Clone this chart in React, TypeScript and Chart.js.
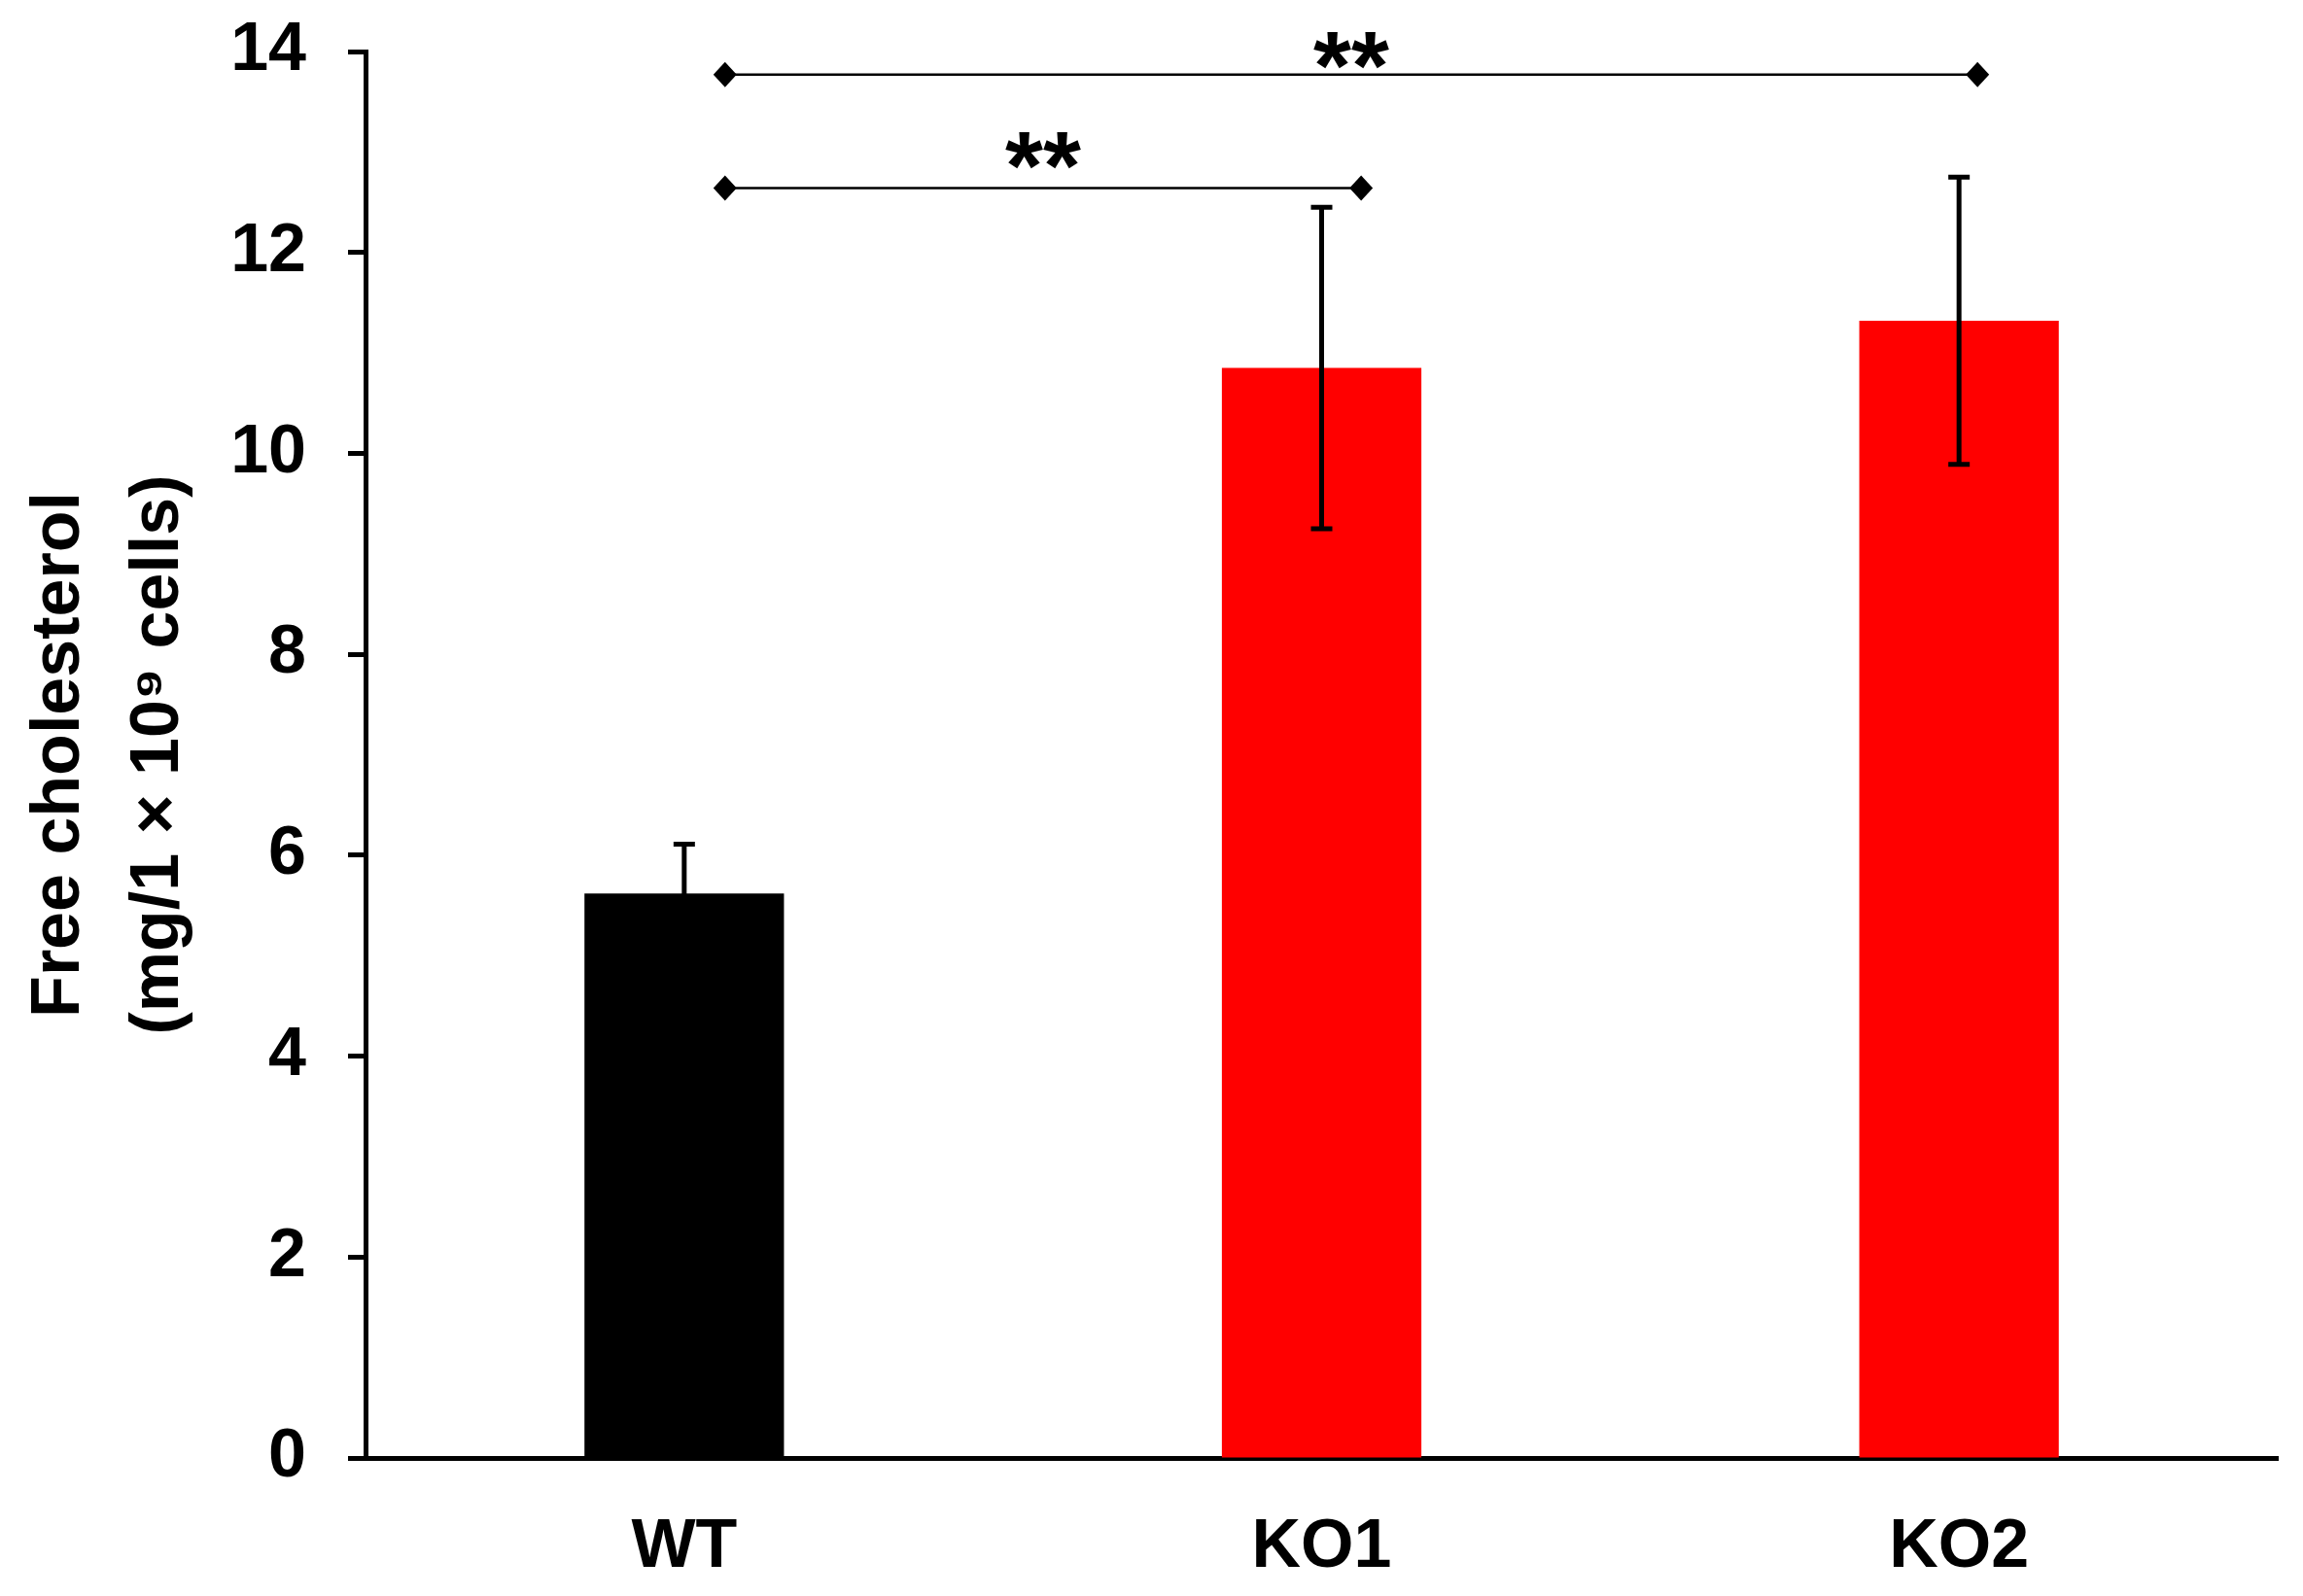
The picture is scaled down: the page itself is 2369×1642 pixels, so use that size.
import React, { useRef, useEffect } from "react";
import { Chart, registerables } from "chart.js";

Chart.register(...registerables);

const groups = ["WT", "KO1", "KO2"];
const means = [5.62, 10.85, 11.32];
const errors = [0.49, 1.6, 1.43];
const barColors = ["#000000", "#ff0000", "#ff0000"];
const yTicks = [0, 2, 4, 6, 8, 10, 12, 14];

// significance brackets, x in category units (0 = WT, 1 = KO1, 2 = KO2)
const bracketFrom = [0.064, 0.064];
const bracketTo = [1.062, 2.029];
const bracketY = [12.64, 13.77];
const starY = [13.01, 14.01];
const starText = ["**", "**"];

const FONT = "'Liberation Sans', Arial, Helvetica, sans-serif";

const annotations = {
  id: "annotations",
  afterDatasetsDraw(chart: Chart) {
    const ctx = chart.ctx;
    const x = chart.scales.x;
    const y = chart.scales.y;
    ctx.save();

    // error bars
    ctx.strokeStyle = "#000";
    ctx.lineWidth = 5;
    means.forEach((m, i) => {
      const px = x.getPixelForValue(i);
      const top = y.getPixelForValue(m + errors[i]);
      const bot = y.getPixelForValue(m - errors[i]);
      ctx.beginPath();
      ctx.moveTo(px, top);
      ctx.lineTo(px, bot);
      ctx.moveTo(px - 11, top);
      ctx.lineTo(px + 11, top);
      ctx.moveTo(px - 11, bot);
      ctx.lineTo(px + 11, bot);
      ctx.stroke();
    });

    // brackets with diamond ends
    bracketY.forEach((v, i) => {
      const py = y.getPixelForValue(v);
      const x1 = x.getPixelForValue(bracketFrom[i]);
      const x2 = x.getPixelForValue(bracketTo[i]);
      ctx.lineWidth = 2.5;
      ctx.beginPath();
      ctx.moveTo(x1, py);
      ctx.lineTo(x2, py);
      ctx.stroke();
      ctx.fillStyle = "#000";
      [x1, x2].forEach((dx) => {
        ctx.beginPath();
        ctx.moveTo(dx, py - 13);
        ctx.lineTo(dx + 12, py);
        ctx.lineTo(dx, py + 13);
        ctx.lineTo(dx - 12, py);
        ctx.closePath();
        ctx.fill();
      });

      ctx.font = `bold 100px ${FONT}`;
      ctx.textAlign = "center";
      ctx.textBaseline = "alphabetic";
      const m = ctx.measureText(starText[i]);
      const cy = y.getPixelForValue(starY[i]);
      const base = cy + (m.actualBoundingBoxAscent - m.actualBoundingBoxDescent) / 2;
      ctx.fillText(starText[i], (x1 + x2) / 2, base);
    });

    ctx.restore();
  },
};

const App = () => {
  const canvasRef = useRef<HTMLCanvasElement | null>(null);
  const chartRef = useRef<Chart | null>(null);

  useEffect(() => {
    if (!canvasRef.current) return;
    if (chartRef.current) chartRef.current.destroy();

    chartRef.current = new Chart(canvasRef.current, {
      type: "bar",
      data: {
        labels: groups,
        datasets: [
          {
            data: means,
            backgroundColor: barColors,
            borderWidth: 0,
            barPercentage: 0.313,
            categoryPercentage: 1,
          },
        ],
      },
      options: {
        animation: false,
        responsive: true,
        maintainAspectRatio: false,
        devicePixelRatio: 1,
        layout: { padding: { left: 0, right: 26, top: 53, bottom: 0 } },
        plugins: {
          legend: { display: false },
          tooltip: { enabled: false },
        },
        scales: {
          x: {
            grid: { display: false },
            border: { color: "#000", width: 5 },
            ticks: {
              color: "#000",
              padding: 43,
              font: { family: FONT, size: 70, weight: "bold" },
            },
            afterFit: (scale) => {
              scale.height = 142;
            },
          },
          y: {
            min: 0,
            max: 14,
            afterBuildTicks: (scale) => {
              scale.ticks = yTicks.map((v) => ({ value: v }));
            },
            grid: {
              drawOnChartArea: false,
              color: "#000",
              tickLength: 18,
              tickWidth: 5,
            },
            border: { color: "#000", width: 5 },
            ticks: {
              color: "#000",
              padding: 43,
              font: { family: FONT, size: 70, weight: "bold", lineHeight: 0.2 },
            },
            title: {
              display: true,
              text: ["Free cholesterol", "(mg/1 × 10⁹ cells)"],
              color: "#000",
              padding: { top: 11, bottom: 0 },
              font: { family: FONT, size: 70, weight: "bold", lineHeight: 1.45 },
            },
            afterFit: (scale) => {
              scale.width = 376;
            },
          },
        },
      },
      plugins: [annotations],
    });

    return () => {
      if (chartRef.current) {
        chartRef.current.destroy();
        chartRef.current = null;
      }
    };
  }, []);

  return (
    <div
      style={{
        position: "fixed",
        left: 0,
        top: 0,
        width: "2369px",
        height: "1642px",
        background: "#fff",
      }}
    >
      <canvas ref={canvasRef}></canvas>
    </div>
  );
};

export default App;
